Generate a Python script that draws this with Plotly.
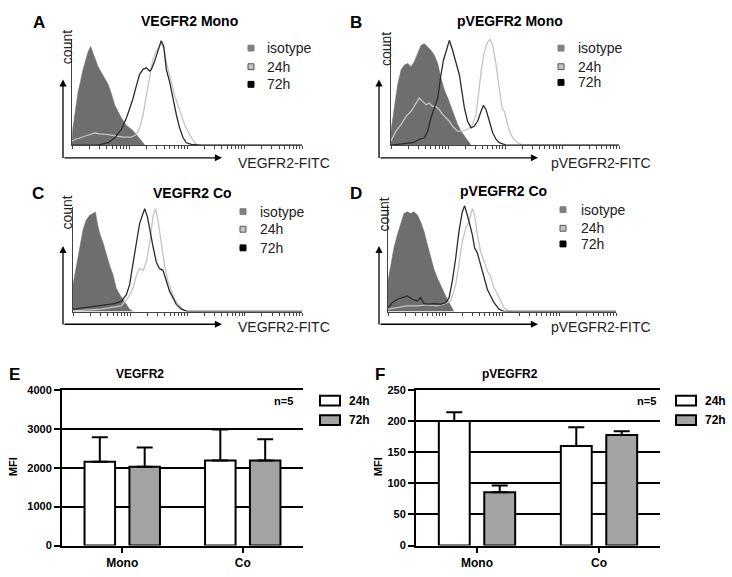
import math
import plotly.graph_objects as go

W, H = 732, 577
FONT = "Liberation Sans, Arial, sans-serif"

# ---------------- histogram data (channel 0-100 on a 4-decade log scale, count in % of max) -------------
A_iso_x = [0, 0.4, 2.6, 4.8, 7.0, 8.1, 9.6, 11.3, 12.8, 14.2, 15.7, 17.1, 18.6, 20.0, 21.4, 23.6, 25.8, 28.0, 30.1, 31.6]
A_iso_y = [3.7, 16, 50, 72, 89, 94, 85, 75, 69, 63, 58, 49, 38, 32, 26, 19, 15, 10, 4, 0]
A_24_x = [0, 1.2, 5.5, 9.9, 12.0, 15.7, 20.0, 22.9, 25.8, 28.0, 29.4, 30.9, 32.3, 33.8, 35.2, 36.2, 37.4, 38.8, 40.0, 41.4, 43.2, 44.6, 46.1, 47.5, 49.0, 50.4, 51.9, 53.3, 54.8, 100]
A_24_y = [3.7, 5.3, 8.4, 11.5, 10.6, 10.0, 8.4, 7.5, 7.5, 10.0, 16.2, 28.7, 47.4, 66.0, 81.6, 87.9, 92.5, 97.2, 91.0, 75.4, 59.8, 47.4, 38.0, 28.7, 19.3, 13.1, 6.9, 2.2, 0, 0]
A_72_x = [0, 11.3, 15.7, 18.6, 21.4, 23.6, 25.1, 26.5, 28.0, 29.4, 30.9, 32.3, 33.8, 34.5, 35.7, 36.7, 38.1, 38.8, 39.9, 41.0, 42.5, 43.9, 45.4, 46.8, 48.3, 49.7, 51.9, 56.2, 100]
A_72_y = [0, 0, 2.2, 6.9, 14.6, 25.5, 34.9, 44.2, 56.7, 67.6, 72.3, 73.8, 70.7, 72.3, 78.5, 84.7, 94.1, 99.7, 94.1, 72.3, 59.8, 44.2, 28.7, 16.2, 6.9, 2.2, 0.6, 0, 0]

B_iso_x = [0, 1.5, 2.9, 4.4, 5.8, 7.3, 8.8, 10.2, 11.7, 13.2, 14.6, 16.1, 17.5, 19.0, 20.5, 21.9, 23.4, 24.9, 26.3, 27.8, 29.2, 30.7, 32.9, 35.1]
B_iso_y = [13.1, 38.1, 56.9, 70.9, 75.6, 77.2, 74.1, 78.8, 86.6, 94.4, 95.9, 92.8, 89.7, 85.0, 77.2, 63.1, 52.2, 44.4, 36.6, 27.2, 19.4, 13.1, 6.9, 0]
B_24_x = [0, 2.2, 4.4, 6.6, 8.8, 11.0, 12.4, 13.9, 15.4, 16.8, 18.3, 19.7, 21.2, 22.7, 24.1, 25.6, 27.0, 29.2, 31.4, 33.6, 35.8, 37.3, 38.5, 39.5, 40.9, 42.4, 43.4, 44.6, 46.1, 47.5, 48.7, 49.7, 50.7, 51.9, 53.4, 55.6, 57.7, 100]
B_24_y = [3.8, 13.1, 19.4, 27.2, 31.9, 39.7, 44.4, 41.3, 38.1, 39.7, 36.6, 36.6, 33.4, 28.8, 25.6, 22.5, 17.8, 13.1, 13.1, 14.7, 19.4, 28.8, 50.6, 69.4, 88.1, 97.5, 100, 94.4, 75.6, 50.6, 35.0, 31.9, 22.5, 13.1, 6.9, 2.2, 0, 0]
B_72_x = [0, 9.5, 12.4, 14.6, 16.1, 17.5, 19.0, 20.5, 21.9, 23.0, 24.1, 25.6, 27.0, 28.5, 30.0, 31.1, 32.2, 33.6, 35.1, 36.5, 38.0, 39.5, 40.5, 41.7, 43.1, 44.6, 46.1, 47.5, 50.4, 100]
B_72_y = [0, 2.2, 5.3, 6.9, 13.1, 25.6, 35.0, 44.4, 66.3, 80.3, 88.1, 99.1, 89.7, 78.8, 66.3, 50.6, 35.0, 22.5, 16.3, 17.8, 22.5, 31.9, 37.5, 33.4, 22.5, 11.6, 5.3, 2.2, 0, 0]

C_iso_x = [0, 1.5, 2.9, 4.4, 5.8, 7.3, 8.7, 9.8, 10.6, 11.6, 13.1, 14.6, 16.0, 17.5, 18.9, 20.4, 21.8, 23.3, 24.7, 26.2]
C_iso_y = [25.6, 44.4, 63.1, 78.8, 88.1, 92.8, 94.4, 95.9, 85.0, 75.6, 66.3, 53.8, 44.4, 35.0, 22.5, 16.3, 11.6, 6.9, 2.2, 0]
C_24_x = [0, 12.4, 21.1, 24.0, 26.2, 27.7, 29.1, 30.6, 32.0, 33.5, 34.9, 36.0, 37.1, 38.6, 40.0, 41.5, 42.9, 44.4, 46.6, 48.8, 50.9, 100]
C_24_y = [0.6, 2.2, 5.3, 13.1, 22.5, 35.0, 41.3, 39.7, 47.5, 66.3, 91.3, 99.1, 88.1, 63.1, 44.4, 28.8, 19.4, 11.6, 5.3, 0.6, 0, 0]
C_72_x = [0, 5.1, 9.5, 13.8, 18.2, 21.1, 23.3, 24.7, 26.2, 27.7, 29.1, 30.6, 31.3, 32.5, 33.5, 34.9, 36.4, 37.8, 39.3, 40.8, 42.2, 43.7, 45.1, 47.3, 50.2, 100]
C_72_y = [2.2, 3.8, 5.3, 6.3, 7.5, 10.0, 16.3, 25.6, 44.4, 66.3, 85.0, 95.9, 99.1, 91.3, 78.8, 63.1, 47.5, 41.3, 39.7, 28.8, 19.4, 13.1, 6.9, 2.2, 0, 0]

D_iso_x = [0, 1.2, 2.6, 4.1, 5.6, 7.0, 8.5, 9.9, 11.4, 12.9, 14.3, 15.8, 17.3, 18.7, 20.2, 21.6, 23.1, 24.6, 26.0, 27.5, 28.9]
D_iso_y = [28.8, 44.4, 60.0, 72.5, 81.9, 92.8, 94.4, 92.8, 94.4, 91.3, 85.0, 75.6, 63.1, 50.6, 39.7, 31.9, 24.1, 17.8, 11.6, 5.3, 0]
D_24_x = [0, 4.1, 8.5, 12.9, 17.3, 21.6, 24.6, 27.5, 29.7, 31.1, 32.6, 34.1, 35.5, 37.0, 38.0, 39.2, 40.6, 42.1, 43.6, 45.0, 46.5, 48.0, 49.4, 50.9, 53.1, 100]
D_24_y = [2.2, 3.8, 5.3, 5.3, 6.3, 5.3, 6.9, 10.0, 25.6, 44.4, 66.3, 78.8, 85.0, 97.5, 91.3, 72.5, 56.9, 47.5, 38.1, 33.4, 22.5, 16.3, 10.0, 3.8, 0, 0]
D_72_x = [0, 1.9, 4.1, 6.3, 8.5, 10.7, 12.9, 14.3, 15.8, 17.3, 20.2, 23.1, 25.3, 26.8, 28.2, 29.7, 31.1, 32.6, 33.6, 34.8, 36.0, 37.0, 38.0, 39.2, 40.6, 42.1, 43.6, 45.0, 46.5, 48.7, 50.9, 100]
D_72_y = [3.8, 8.4, 11.6, 13.1, 14.7, 11.6, 10.0, 13.1, 7.5, 6.9, 7.5, 6.9, 8.4, 13.1, 28.8, 50.6, 75.6, 94.4, 100, 91.3, 81.9, 72.5, 60.0, 55.3, 44.4, 31.9, 20.9, 14.7, 8.4, 2.2, 0, 0]

hist_titles = ["VEGFR2 Mono", "pVEGFR2 Mono", "VEGFR2 Co", "pVEGFR2 Co"]
hist_xlabels = ["VEGFR2-FITC", "pVEGFR2-FITC", "VEGFR2-FITC", "pVEGFR2-FITC"]
hist_legend = ["isotype", "24h", "72h"]

# ---------------- bar data ----------------
groups = ["Mono", "Co"]
vegfr2_24h = [2150, 2185]
vegfr2_24h_sem = [630, 795]
vegfr2_72h = [2025, 2185]
vegfr2_72h_sem = [495, 545]
pvegfr2_24h = [200, 160]
pvegfr2_24h_sem = [14, 30]
pvegfr2_72h = [85.5, 177.5]
pvegfr2_72h_sem = [11, 6]
bar_legend = ["24h", "72h"]


def px(x):
    return x / W


def py(y):
    return 1 - y / H


ISO_C = "#6e6e6e"
C24 = "#c4c4c4"
C72 = "#2b2b2b"
GRAY_BAR = "#a3a3a3"

fig = go.Figure()

hist_sets = [
    (A_iso_x, A_iso_y, A_24_x, A_24_y, A_72_x, A_72_y),
    (B_iso_x, B_iso_y, B_24_x, B_24_y, B_72_x, B_72_y),
    (C_iso_x, C_iso_y, C_24_x, C_24_y, C_72_x, C_72_y),
    (D_iso_x, D_iso_y, D_24_x, D_24_y, D_72_x, D_72_y),
]
for i, (ix, iy, x24, y24, x72, y72) in enumerate(hist_sets):
    ax = "x" if i == 0 else f"x{i+1}"
    ay = "y" if i == 0 else f"y{i+1}"
    fig.add_trace(go.Scatter(x=ix, y=iy, mode="lines", fill="tozeroy", fillcolor=ISO_C,
                             line=dict(color=ISO_C, width=0.6), xaxis=ax, yaxis=ay, showlegend=False))
    fig.add_trace(go.Scatter(x=x24, y=y24, mode="lines", line=dict(color=C24, width=1.3),
                             xaxis=ax, yaxis=ay, showlegend=False))
    fig.add_trace(go.Scatter(x=x72, y=y72, mode="lines", line=dict(color=C72, width=1.3),
                             xaxis=ax, yaxis=ay, showlegend=False))

bar_line = dict(color="black", width=2)
def err(arr):
    return dict(type="data", array=arr, arrayminus=[0] * len(arr), symmetric=False,
                color="black", thickness=2, width=8)

fig.add_trace(go.Bar(x=groups, y=vegfr2_24h, error_y=err(vegfr2_24h_sem), xaxis="x5", yaxis="y5",
                     marker=dict(color="white", line=bar_line), showlegend=False))
fig.add_trace(go.Bar(x=groups, y=vegfr2_72h, error_y=err(vegfr2_72h_sem), xaxis="x5", yaxis="y5",
                     marker=dict(color=GRAY_BAR, line=bar_line), showlegend=False))
fig.add_trace(go.Bar(x=groups, y=pvegfr2_24h, error_y=err(pvegfr2_24h_sem), xaxis="x6", yaxis="y6",
                     marker=dict(color="white", line=bar_line), showlegend=False))
fig.add_trace(go.Bar(x=groups, y=pvegfr2_72h, error_y=err(pvegfr2_72h_sem), xaxis="x6", yaxis="y6",
                     marker=dict(color=GRAY_BAR, line=bar_line), showlegend=False))

# ---------------- axes ----------------
tick_ch = [25 * math.log10(k * 10 ** d) for d in range(4) for k in range(1, 10)] + [100]
hx = dict(range=[0, 100], showline=True, linecolor="#444", linewidth=1, ticks="outside", ticklen=3,
          tickwidth=1, tickcolor="#444", tickmode="array", tickvals=tick_ch, showticklabels=False,
          showgrid=False, zeroline=False)
hy = dict(range=[0, 101], showline=True, linecolor="#444", linewidth=1, ticks="", showticklabels=False,
          showgrid=False, zeroline=False)

hist_dom = [
    ((72, 302), (142, 34)),
    ((391, 619), (142, 33)),
    ((73, 302), (312, 205)),
    ((388, 616), (312, 203)),
]
layout_axes = {}
for i, ((x0, x1), (yb, yt)) in enumerate(hist_dom):
    kx = "xaxis" if i == 0 else f"xaxis{i+1}"
    ky = "yaxis" if i == 0 else f"yaxis{i+1}"
    layout_axes[kx] = dict(hx, domain=[px(x0), px(x1)], anchor="y" if i == 0 else f"y{i+1}")
    layout_axes[ky] = dict(hy, domain=[py(yb), py(yt)], anchor="x" if i == 0 else f"x{i+1}")

bx = dict(type="category", showline=True, mirror=True, linecolor="black", linewidth=2, ticks="outside",
          ticklen=5, tickwidth=2, tickcolor="black", showgrid=False, zeroline=False,
          tickfont=dict(family=FONT, size=12, color="black", weight="bold"))
by = dict(showline=True, linecolor="black", linewidth=2, ticks="outside", ticklen=6, tickwidth=2,
          tickcolor="black", showgrid=True, gridcolor="black", gridwidth=2, zeroline=False,
          tickfont=dict(family=FONT, size=11, color="black", weight="bold"))
layout_axes["xaxis5"] = dict(bx, domain=[px(62), px(303)], anchor="y5")
layout_axes["yaxis5"] = dict(by, domain=[py(551), py(392)], anchor="x5", range=[0, 4000], dtick=1000)
layout_axes["xaxis6"] = dict(bx, domain=[px(416), px(660)], anchor="y6")
layout_axes["yaxis6"] = dict(by, domain=[py(551), py(392)], anchor="x6", range=[0, 250], dtick=50)

# ---------------- annotations & shapes ----------------
ann = []
shapes = []

def text(x, y, t, size, bold=False, angle=0, xanchor="center", color="black"):
    ann.append(dict(x=px(x), y=py(y), xref="paper", yref="paper", text=(f"<b>{t}</b>" if bold else t),
                    showarrow=False, xanchor=xanchor, yanchor="middle", textangle=angle,
                    font=dict(family=FONT, size=size, color=color)))

def arrow(hx_, hy_, tx, ty):
    ann.append(dict(x=px(hx_), y=py(hy_), xref="paper", yref="paper", ax=tx - hx_, ay=ty - hy_,
                    axref="pixel", ayref="pixel", text="", showarrow=True, arrowhead=2, arrowsize=1.1,
                    arrowwidth=1.3, arrowcolor="black"))

# panel letters
for letter, (lx, ly) in zip("ABCDEF", [(39, 17), (356, 17), (38, 191), (356, 191), (14, 376), (380, 376)]):
    text(lx, ly, letter, 17, bold=True)

title_pos = [(189, 15), (510, 15), (192, 191), (503, 189)]
xlabel_pos = [(284, 160), (601, 160), (284, 328), (601, 328)]
count_pos = [(67, 42), (386, 44), (67, 211), (384, 213)]
arrow_corner = [(63, 155, 75, 222), (379, 155, 75, 538), (63, 325, 245, 222), (379, 325, 245, 538)]
legend_pos = [(251, 265, [43, 62, 80]), (561, 576, [43, 62, 78]), (243, 258, [210, 228, 247]),
              (563, 579, [208, 227, 243])]

for i in range(4):
    text(*title_pos[i], hist_titles[i], 14, bold=True)
    text(*xlabel_pos[i], hist_xlabels[i], 14, color="#222")
    text(*count_pos[i], "count", 14, angle=-90, color="#222")
    cx, cy, tipy, tipx = arrow_corner[i]
    arrow(cx, tipy, cx, cy)
    arrow(tipx, cy, cx, cy)
    sx, tx, ys = legend_pos[i]
    fills = [("#808080", "#808080"), (C24, "#555"), ("#000", "#000")]
    for (fc, lc), yy, lab in zip(fills, ys, hist_legend):
        shapes.append(dict(type="rect", xref="paper", yref="paper", x0=px(sx - 3), x1=px(sx + 3),
                           y0=py(yy + 3), y1=py(yy - 3), fillcolor=fc, line=dict(color=lc, width=1)))
        text(tx, yy, lab, 14, xanchor="left", color="#222")

# bar panels
text(140, 376, "VEGFR2", 12, bold=True)
text(510, 376, "pVEGFR2", 12, bold=True)
text(283, 403, "n=5", 11, bold=True)
text(646, 403, "n=5", 11, bold=True)
text(13, 471, "MFI", 11, bold=True, angle=-90)
text(378, 471, "MFI", 11, bold=True, angle=-90)
for bx0, tx in [(320, 347), (676, 703)]:
    for yy, fc, lab in [(403, "white", bar_legend[0]), (423, GRAY_BAR, bar_legend[1])]:
        shapes.append(dict(type="rect", xref="paper", yref="paper", x0=px(bx0), x1=px(bx0 + 20),
                           y0=py(yy + 5), y1=py(yy - 5), fillcolor=fc, line=dict(color="black", width=2)))
        text(tx, yy, lab, 12, bold=True, xanchor="left")

fig.update_layout(
    width=W, height=H, autosize=False,
    margin=dict(l=0, r=0, t=0, b=0),
    paper_bgcolor="white", plot_bgcolor="white",
    barmode="group", bargap=0.255, bargroupgap=0.32,
    annotations=ann, shapes=shapes,
    font=dict(family=FONT),
    hovermode=False,
    **layout_axes,
)

fig.write_html("out.html", config={"displayModeBar": False, "staticPlot": True},
               post_script="document.body.style.margin='0';document.body.style.padding='0';"
                           "document.body.style.overflow='hidden';")
